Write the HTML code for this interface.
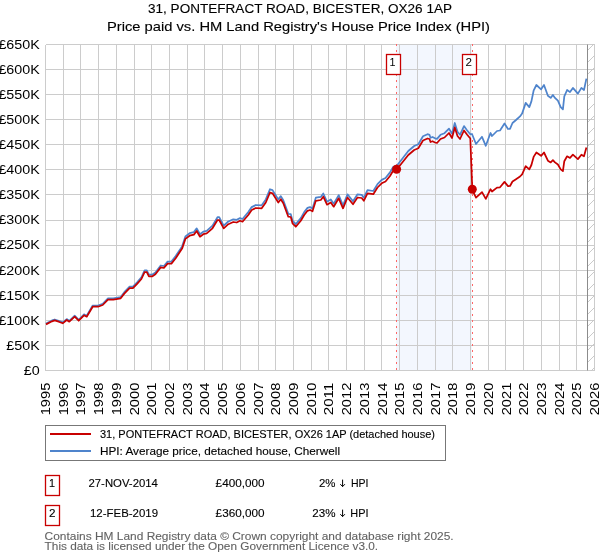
<!DOCTYPE html>
<html><head><meta charset="utf-8"><style>html,body{margin:0;padding:0;background:#fff;width:600px;height:560px;overflow:hidden}svg{display:block;will-change:transform}</style></head>
<body><svg width="600" height="560" viewBox="0 0 600 560">
<defs><clipPath id="pc"><rect x="45.5" y="44.5" width="549" height="326"/></clipPath></defs>
<rect x="396" y="44.5" width="76" height="326" fill="#f3f7fe"/>
<g stroke="#cccccc" stroke-width="1" shape-rendering="crispEdges"><line x1="45.5" y1="44.5" x2="45.5" y2="370.5"/><line x1="63.5" y1="44.5" x2="63.5" y2="370.5"/><line x1="80.5" y1="44.5" x2="80.5" y2="370.5"/><line x1="98.5" y1="44.5" x2="98.5" y2="370.5"/><line x1="116.5" y1="44.5" x2="116.5" y2="370.5"/><line x1="134.5" y1="44.5" x2="134.5" y2="370.5"/><line x1="151.5" y1="44.5" x2="151.5" y2="370.5"/><line x1="169.5" y1="44.5" x2="169.5" y2="370.5"/><line x1="187.5" y1="44.5" x2="187.5" y2="370.5"/><line x1="204.5" y1="44.5" x2="204.5" y2="370.5"/><line x1="222.5" y1="44.5" x2="222.5" y2="370.5"/><line x1="240.5" y1="44.5" x2="240.5" y2="370.5"/><line x1="258.5" y1="44.5" x2="258.5" y2="370.5"/><line x1="275.5" y1="44.5" x2="275.5" y2="370.5"/><line x1="293.5" y1="44.5" x2="293.5" y2="370.5"/><line x1="311.5" y1="44.5" x2="311.5" y2="370.5"/><line x1="328.5" y1="44.5" x2="328.5" y2="370.5"/><line x1="346.5" y1="44.5" x2="346.5" y2="370.5"/><line x1="364.5" y1="44.5" x2="364.5" y2="370.5"/><line x1="381.5" y1="44.5" x2="381.5" y2="370.5"/><line x1="399.5" y1="44.5" x2="399.5" y2="370.5"/><line x1="417.5" y1="44.5" x2="417.5" y2="370.5"/><line x1="435.5" y1="44.5" x2="435.5" y2="370.5"/><line x1="452.5" y1="44.5" x2="452.5" y2="370.5"/><line x1="470.5" y1="44.5" x2="470.5" y2="370.5"/><line x1="488.5" y1="44.5" x2="488.5" y2="370.5"/><line x1="505.5" y1="44.5" x2="505.5" y2="370.5"/><line x1="523.5" y1="44.5" x2="523.5" y2="370.5"/><line x1="541.5" y1="44.5" x2="541.5" y2="370.5"/><line x1="559.5" y1="44.5" x2="559.5" y2="370.5"/><line x1="576.5" y1="44.5" x2="576.5" y2="370.5"/><line x1="594.5" y1="44.5" x2="594.5" y2="370.5"/><line x1="45.5" y1="370.5" x2="594.5" y2="370.5"/><line x1="45.5" y1="345.5" x2="594.5" y2="345.5"/><line x1="45.5" y1="320.5" x2="594.5" y2="320.5"/><line x1="45.5" y1="295.5" x2="594.5" y2="295.5"/><line x1="45.5" y1="270.5" x2="594.5" y2="270.5"/><line x1="45.5" y1="245.5" x2="594.5" y2="245.5"/><line x1="45.5" y1="220.5" x2="594.5" y2="220.5"/><line x1="45.5" y1="194.5" x2="594.5" y2="194.5"/><line x1="45.5" y1="169.5" x2="594.5" y2="169.5"/><line x1="45.5" y1="144.5" x2="594.5" y2="144.5"/><line x1="45.5" y1="119.5" x2="594.5" y2="119.5"/><line x1="45.5" y1="94.5" x2="594.5" y2="94.5"/><line x1="45.5" y1="69.5" x2="594.5" y2="69.5"/><line x1="45.5" y1="44.5" x2="594.5" y2="44.5"/></g>
<g clip-path="url(#pc)" stroke="#c4c4c4" stroke-width="0.9"><line x1="594.5" y1="43.5" x2="587.5" y2="50.5"/><line x1="594.5" y1="55.5" x2="587.5" y2="62.5"/><line x1="594.5" y1="67.5" x2="587.5" y2="74.5"/><line x1="594.5" y1="79.5" x2="587.5" y2="86.5"/><line x1="594.5" y1="91.5" x2="587.5" y2="98.5"/><line x1="594.5" y1="103.5" x2="587.5" y2="110.5"/><line x1="594.5" y1="115.5" x2="587.5" y2="122.5"/><line x1="594.5" y1="127.5" x2="587.5" y2="134.5"/><line x1="594.5" y1="139.5" x2="587.5" y2="146.5"/><line x1="594.5" y1="151.5" x2="587.5" y2="158.5"/><line x1="594.5" y1="163.5" x2="587.5" y2="170.5"/><line x1="594.5" y1="175.5" x2="587.5" y2="182.5"/><line x1="594.5" y1="187.5" x2="587.5" y2="194.5"/><line x1="594.5" y1="199.5" x2="587.5" y2="206.5"/><line x1="594.5" y1="211.5" x2="587.5" y2="218.5"/><line x1="594.5" y1="223.5" x2="587.5" y2="230.5"/><line x1="594.5" y1="235.5" x2="587.5" y2="242.5"/><line x1="594.5" y1="247.5" x2="587.5" y2="254.5"/><line x1="594.5" y1="259.5" x2="587.5" y2="266.5"/><line x1="594.5" y1="271.5" x2="587.5" y2="278.5"/><line x1="594.5" y1="283.5" x2="587.5" y2="290.5"/><line x1="594.5" y1="295.5" x2="587.5" y2="302.5"/><line x1="594.5" y1="307.5" x2="587.5" y2="314.5"/><line x1="594.5" y1="319.5" x2="587.5" y2="326.5"/><line x1="594.5" y1="331.5" x2="587.5" y2="338.5"/><line x1="594.5" y1="343.5" x2="587.5" y2="350.5"/><line x1="594.5" y1="355.5" x2="587.5" y2="362.5"/><line x1="594.5" y1="367.5" x2="587.5" y2="374.5"/></g>
<line x1="587.5" y1="44.5" x2="587.5" y2="370.5" stroke="#8c8c8c" stroke-width="1"/>
<line x1="396.5" y1="44" x2="396.5" y2="370.5" stroke="#ff6666" stroke-width="1" stroke-dasharray="2,4"/>
<line x1="472.5" y1="44" x2="472.5" y2="370.5" stroke="#ff6666" stroke-width="1" stroke-dasharray="2,4"/>
<path d="M46.0,323.6 L52.0,320.4 L54.7,319.5 L58.7,320.8 L62.7,322.4 L66.7,319.1 L69.3,320.8 L74.7,315.7 L78.7,319.8 L84.0,314.3 L86.7,315.7 L92.7,305.5 L98.0,305.5 L102.7,303.8 L108.0,298.3 L113.3,298.3 L120.7,297.0 L124.3,292.2 L129.6,286.7 L132.9,286.7 L137.1,282.3 L141.4,277.3 L144.6,270.3 L146.8,270.3 L148.9,274.7 L152.1,274.7 L155.4,272.5 L160.7,265.5 L163.9,266.0 L167.6,261.6 L171.4,261.6 L175.7,256.1 L182.1,246.4 L185.4,236.5 L189.6,233.2 L193.9,232.1 L196.7,228.4 L200.0,234.2 L203.3,231.7 L206.7,230.8 L212.5,225.7 L217.5,217.2 L219.2,217.2 L223.7,225.7 L228.3,221.5 L233.3,219.3 L236.7,219.8 L240.0,218.1 L242.5,219.0 L248.3,212.1 L251.7,207.1 L255.8,205.0 L261.7,205.3 L265.8,199.4 L270.0,189.2 L272.5,190.1 L278.3,199.4 L280.8,196.1 L283.3,200.2 L288.3,213.9 L290.8,214.2 L292.5,220.6 L295.8,224.1 L300.8,218.1 L304.2,212.1 L307.5,207.9 L310.0,207.1 L312.5,208.4 L315.8,197.7 L320.8,196.9 L323.3,193.5 L327.0,201.7 L330.8,199.4 L333.7,203.7 L338.7,195.1 L343.0,205.3 L347.5,194.3 L353.0,201.2 L357.5,194.3 L361.7,194.8 L363.8,197.7 L367.5,190.1 L373.3,191.0 L377.5,184.1 L381.7,179.9 L385.5,178.0 L390.0,172.4 L393.3,166.8 L396.8,165.7 L401.7,159.5 L408.3,151.0 L414.2,146.0 L418.3,144.2 L423.0,136.3 L427.5,134.2 L429.5,134.8 L430.5,137.8 L432.5,137.0 L435.0,138.3 L437.0,138.8 L440.5,134.8 L444.5,133.2 L449.0,128.6 L452.0,133.7 L454.8,123.0 L457.5,131.7 L460.0,134.8 L464.0,126.1 L467.0,130.2 L470.3,134.2 L472.0,134.0 L476.0,144.0 L482.0,136.8 L485.8,145.8 L490.5,133.0 L492.0,136.0 L497.0,131.0 L500.0,130.5 L504.5,123.5 L508.0,129.0 L510.0,128.8 L512.5,123.0 L516.0,120.0 L520.0,116.4 L522.1,113.6 L525.7,102.9 L529.3,107.1 L531.4,101.4 L533.6,90.7 L536.4,85.0 L541.1,89.3 L544.0,85.0 L547.9,95.7 L550.7,97.9 L552.9,95.0 L555.0,97.9 L557.9,100.7 L560.7,107.1 L562.9,109.3 L564.3,96.4 L567.1,90.0 L570.0,92.1 L572.9,87.9 L577.9,93.6 L581.4,87.9 L584.0,90.0 L586.4,78.6" fill="none" stroke="#4f84cc" stroke-width="1.75" stroke-linejoin="round"/>
<path d="M46.0,324.4 L52.0,321.3 L54.7,320.4 L58.7,321.7 L62.7,323.3 L66.7,320.0 L69.3,321.7 L74.7,316.7 L78.7,320.7 L84.0,315.3 L86.7,316.7 L92.7,306.7 L98.0,306.7 L102.7,305.0 L108.0,299.6 L113.3,299.6 L120.7,298.3 L124.3,293.6 L129.6,288.2 L132.9,288.2 L137.1,283.9 L141.4,279.0 L144.6,272.1 L146.8,272.1 L148.9,276.4 L152.1,276.4 L155.4,274.3 L160.7,267.4 L163.9,267.9 L167.6,263.6 L171.4,263.6 L175.7,258.2 L182.1,248.6 L185.4,238.9 L189.6,235.7 L193.9,234.6 L196.7,231.0 L200.0,236.7 L203.3,234.2 L206.7,233.3 L212.5,228.3 L217.5,220.0 L219.2,220.0 L223.7,228.3 L228.3,224.2 L233.3,222.0 L236.7,222.5 L240.0,220.8 L242.5,221.7 L248.3,215.0 L251.7,210.0 L255.8,208.0 L261.7,208.3 L265.8,202.5 L270.0,192.5 L272.5,193.3 L278.3,202.5 L280.8,199.2 L283.3,203.3 L288.3,216.7 L290.8,217.0 L292.5,223.3 L295.8,226.7 L300.8,220.8 L304.2,215.0 L307.5,210.8 L310.0,210.0 L312.5,211.3 L315.8,200.8 L320.8,200.0 L323.3,196.7 L327.0,204.7 L330.8,202.5 L333.7,206.7 L338.7,198.3 L343.0,208.3 L347.5,197.5 L353.0,204.2 L357.5,197.5 L361.7,198.0 L363.8,200.8 L367.5,193.3 L373.3,194.2 L377.5,187.5 L381.7,183.3 L385.5,181.5 L390.0,176.0 L393.3,170.5 L396.8,169.4 L401.7,163.3 L408.3,155.0 L414.2,150.0 L418.3,148.3 L423.0,140.5 L427.5,138.5 L429.5,139.0 L430.5,142.0 L432.5,141.2 L435.0,142.5 L437.0,143.0 L440.5,139.0 L444.5,137.5 L449.0,133.0 L452.0,138.0 L454.8,127.5 L457.5,136.0 L460.0,139.0 L464.0,130.5 L467.0,134.5 L470.3,138.5 L472.3,189.9 L476.0,197.6 L482.0,192.1 L485.8,198.9 L490.5,189.2 L492.0,191.5 L497.0,187.6 L500.0,187.3 L504.5,181.9 L508.0,186.1 L510.0,186.0 L512.5,181.5 L516.0,179.2 L520.0,176.5 L522.1,174.3 L525.7,166.2 L529.3,169.4 L531.4,165.0 L533.6,156.9 L536.4,152.5 L541.1,155.8 L544.0,152.5 L547.9,160.7 L550.7,162.4 L552.9,160.1 L555.0,162.4 L557.9,164.5 L560.7,169.4 L562.9,171.1 L564.3,161.2 L567.1,156.3 L570.0,157.9 L572.9,154.7 L577.9,159.1 L581.4,154.7 L584.0,156.3 L586.4,147.6" fill="none" stroke="#c80000" stroke-width="1.75" stroke-linejoin="round"/>
<circle cx="396.6" cy="169.2" r="4.5" fill="#c80000"/>
<circle cx="472.3" cy="189.2" r="4.5" fill="#c80000"/>
<g fill="#fff" stroke="#c80000" stroke-width="1.3">
<rect x="386.5" y="54.5" width="14" height="20"/>
<rect x="462.5" y="54.5" width="14" height="20"/>
</g>
<g font-family="Liberation Sans, sans-serif" font-size="12" fill="#000">
<text x="389.5" y="66" font-size="11.5" textLength="6" lengthAdjust="spacingAndGlyphs">1</text>
<text x="465.5" y="66" font-size="11.5" textLength="6.5" lengthAdjust="spacingAndGlyphs">2</text>
</g>
<g font-family="Liberation Sans, sans-serif" font-size="12.3" fill="#000">
<text x="23.86" y="374.8" textLength="15.94" lengthAdjust="spacingAndGlyphs">£0</text><text x="6.36" y="349.7" textLength="33.44" lengthAdjust="spacingAndGlyphs">£50K</text><text x="-1.60" y="324.6" textLength="41.40" lengthAdjust="spacingAndGlyphs">£100K</text><text x="-1.60" y="299.6" textLength="41.40" lengthAdjust="spacingAndGlyphs">£150K</text><text x="-1.60" y="274.5" textLength="41.40" lengthAdjust="spacingAndGlyphs">£200K</text><text x="-1.60" y="249.4" textLength="41.40" lengthAdjust="spacingAndGlyphs">£250K</text><text x="-1.60" y="224.3" textLength="41.40" lengthAdjust="spacingAndGlyphs">£300K</text><text x="-1.60" y="199.2" textLength="41.40" lengthAdjust="spacingAndGlyphs">£350K</text><text x="-1.60" y="174.2" textLength="41.40" lengthAdjust="spacingAndGlyphs">£400K</text><text x="-1.60" y="149.1" textLength="41.40" lengthAdjust="spacingAndGlyphs">£450K</text><text x="-1.60" y="124.0" textLength="41.40" lengthAdjust="spacingAndGlyphs">£500K</text><text x="-1.60" y="98.9" textLength="41.40" lengthAdjust="spacingAndGlyphs">£550K</text><text x="-1.60" y="73.8" textLength="41.40" lengthAdjust="spacingAndGlyphs">£600K</text><text x="-1.60" y="48.8" textLength="41.40" lengthAdjust="spacingAndGlyphs">£650K</text>
</g>
<g font-family="Liberation Sans, sans-serif" font-size="12.3" fill="#000">
<text transform="translate(50.0,415.3) rotate(-90)" textLength="32.6" lengthAdjust="spacingAndGlyphs">1995</text><text transform="translate(67.7,415.3) rotate(-90)" textLength="32.6" lengthAdjust="spacingAndGlyphs">1996</text><text transform="translate(85.4,415.3) rotate(-90)" textLength="32.6" lengthAdjust="spacingAndGlyphs">1997</text><text transform="translate(103.1,415.3) rotate(-90)" textLength="32.6" lengthAdjust="spacingAndGlyphs">1998</text><text transform="translate(120.8,415.3) rotate(-90)" textLength="32.6" lengthAdjust="spacingAndGlyphs">1999</text><text transform="translate(138.5,415.3) rotate(-90)" textLength="32.6" lengthAdjust="spacingAndGlyphs">2000</text><text transform="translate(156.3,415.3) rotate(-90)" textLength="32.6" lengthAdjust="spacingAndGlyphs">2001</text><text transform="translate(174.0,415.3) rotate(-90)" textLength="32.6" lengthAdjust="spacingAndGlyphs">2002</text><text transform="translate(191.7,415.3) rotate(-90)" textLength="32.6" lengthAdjust="spacingAndGlyphs">2003</text><text transform="translate(209.4,415.3) rotate(-90)" textLength="32.6" lengthAdjust="spacingAndGlyphs">2004</text><text transform="translate(227.1,415.3) rotate(-90)" textLength="32.6" lengthAdjust="spacingAndGlyphs">2005</text><text transform="translate(244.8,415.3) rotate(-90)" textLength="32.6" lengthAdjust="spacingAndGlyphs">2006</text><text transform="translate(262.5,415.3) rotate(-90)" textLength="32.6" lengthAdjust="spacingAndGlyphs">2007</text><text transform="translate(280.2,415.3) rotate(-90)" textLength="32.6" lengthAdjust="spacingAndGlyphs">2008</text><text transform="translate(297.9,415.3) rotate(-90)" textLength="32.6" lengthAdjust="spacingAndGlyphs">2009</text><text transform="translate(315.6,415.3) rotate(-90)" textLength="32.6" lengthAdjust="spacingAndGlyphs">2010</text><text transform="translate(333.4,415.3) rotate(-90)" textLength="32.6" lengthAdjust="spacingAndGlyphs">2011</text><text transform="translate(351.1,415.3) rotate(-90)" textLength="32.6" lengthAdjust="spacingAndGlyphs">2012</text><text transform="translate(368.8,415.3) rotate(-90)" textLength="32.6" lengthAdjust="spacingAndGlyphs">2013</text><text transform="translate(386.5,415.3) rotate(-90)" textLength="32.6" lengthAdjust="spacingAndGlyphs">2014</text><text transform="translate(404.2,415.3) rotate(-90)" textLength="32.6" lengthAdjust="spacingAndGlyphs">2015</text><text transform="translate(421.9,415.3) rotate(-90)" textLength="32.6" lengthAdjust="spacingAndGlyphs">2016</text><text transform="translate(439.6,415.3) rotate(-90)" textLength="32.6" lengthAdjust="spacingAndGlyphs">2017</text><text transform="translate(457.3,415.3) rotate(-90)" textLength="32.6" lengthAdjust="spacingAndGlyphs">2018</text><text transform="translate(475.0,415.3) rotate(-90)" textLength="32.6" lengthAdjust="spacingAndGlyphs">2019</text><text transform="translate(492.7,415.3) rotate(-90)" textLength="32.6" lengthAdjust="spacingAndGlyphs">2020</text><text transform="translate(510.5,415.3) rotate(-90)" textLength="32.6" lengthAdjust="spacingAndGlyphs">2021</text><text transform="translate(528.2,415.3) rotate(-90)" textLength="32.6" lengthAdjust="spacingAndGlyphs">2022</text><text transform="translate(545.9,415.3) rotate(-90)" textLength="32.6" lengthAdjust="spacingAndGlyphs">2023</text><text transform="translate(563.6,415.3) rotate(-90)" textLength="32.6" lengthAdjust="spacingAndGlyphs">2024</text><text transform="translate(581.3,415.3) rotate(-90)" textLength="32.6" lengthAdjust="spacingAndGlyphs">2025</text><text transform="translate(599.0,415.3) rotate(-90)" textLength="32.6" lengthAdjust="spacingAndGlyphs">2026</text>
</g>
<g font-family="Liberation Sans, sans-serif" font-size="13" fill="#000" stroke="#000" stroke-width="0.12">
<text x="148" y="13" textLength="304" lengthAdjust="spacingAndGlyphs">31, PONTEFRACT ROAD, BICESTER, OX26 1AP</text>
<text x="107" y="30.5" textLength="383" lengthAdjust="spacingAndGlyphs">Price paid vs. HM Land Registry's House Price Index (HPI)</text>
</g>
<rect x="45.5" y="425.5" width="400" height="35" fill="none" stroke="#777" stroke-width="1"/>
<line x1="50" y1="434" x2="91" y2="434" stroke="#c80000" stroke-width="2"/>
<line x1="50" y1="451" x2="91" y2="451" stroke="#4f84cc" stroke-width="2"/>
<g font-family="Liberation Sans, sans-serif" font-size="11.2" fill="#000" stroke="#000" stroke-width="0.12">
<text x="100" y="438" textLength="335" lengthAdjust="spacingAndGlyphs">31, PONTEFRACT ROAD, BICESTER, OX26 1AP (detached house)</text>
<text x="100" y="455" textLength="240" lengthAdjust="spacingAndGlyphs">HPI: Average price, detached house, Cherwell</text>
</g>
<g fill="#fff" stroke="#c80000" stroke-width="1.3">
<rect x="45.5" y="475.5" width="14" height="20"/>
<rect x="45.5" y="505.5" width="14" height="20"/>
</g>
<g font-family="Liberation Sans, sans-serif" font-size="11.2" fill="#000" stroke="#000" stroke-width="0.12">
<text x="49" y="487" textLength="6" lengthAdjust="spacingAndGlyphs">1</text>
<text x="49" y="517" textLength="6.5" lengthAdjust="spacingAndGlyphs">2</text>
<text x="88.5" y="487" textLength="69.4" lengthAdjust="spacingAndGlyphs">27-NOV-2014</text>
<text x="90" y="517" textLength="68" lengthAdjust="spacingAndGlyphs">12-FEB-2019</text>
<text x="215.6" y="487" textLength="49" lengthAdjust="spacingAndGlyphs">£400,000</text>
<text x="215.6" y="517" textLength="49" lengthAdjust="spacingAndGlyphs">£360,000</text>
<text x="319" y="487" textLength="16.5" lengthAdjust="spacingAndGlyphs">2%</text>
<text x="312.3" y="517" textLength="23.2" lengthAdjust="spacingAndGlyphs">23%</text>
<text x="351" y="487" textLength="17.5" lengthAdjust="spacingAndGlyphs">HPI</text>
<text x="350.3" y="517" textLength="18.2" lengthAdjust="spacingAndGlyphs">HPI</text>
</g>
<path d="M342.6,479.6 V486.6 M340.3,484.2 L342.6,486.6 L344.9,484.2 M342.6,509.6 V516.6 M340.3,514.2 L342.6,516.6 L344.9,514.2" fill="none" stroke="#000" stroke-width="1"/>
<g font-family="Liberation Sans, sans-serif" font-size="11.6" fill="#626262" stroke="#626262" stroke-width="0.1">
<text x="44.6" y="540.2" textLength="409" lengthAdjust="spacingAndGlyphs">Contains HM Land Registry data © Crown copyright and database right 2025.</text>
<text x="44.6" y="549.5" textLength="333.5" lengthAdjust="spacingAndGlyphs">This data is licensed under the Open Government Licence v3.0.</text>
</g>
</svg></body></html>
